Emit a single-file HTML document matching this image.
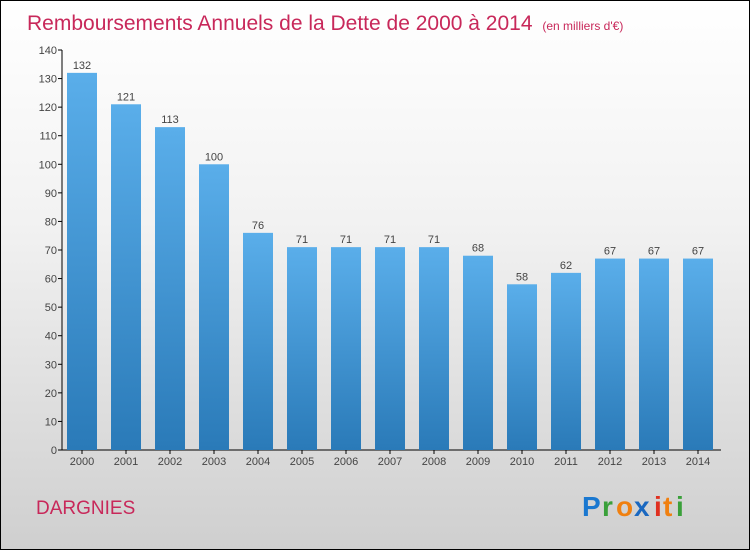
<!DOCTYPE html>
<html><head><meta charset="utf-8"><style>
html,body{margin:0;padding:0}
body{width:750px;height:550px;overflow:hidden;font-family:"Liberation Sans",sans-serif}
#frame{position:absolute;left:0;top:0;width:748px;height:548px;border:1px solid #000;background:linear-gradient(#ffffff 0%,#f2f2f2 40%,#cfcfcf 100%)}
</style></head><body>
<div id="frame">
<svg id="chart" width="750" height="550" style="position:absolute;left:-1px;top:-1px">
<defs><linearGradient id="bg" x1="0" y1="0" x2="0" y2="1"><stop offset="0" stop-color="#5aaeea"/><stop offset="1" stop-color="#2a7ab8"/></linearGradient></defs>
<text x="27" y="30" font-size="21" fill="#c8285a">Remboursements Annuels de la Dette de 2000 à 2014 <tspan font-size="12" dx="4">(en milliers d'€)</tspan></text>
<g id="axes"></g><g id="bars"></g>
<text x="36" y="514" font-size="19" fill="#c8285a">DARGNIES</text>
<g font-size="28" font-weight="bold">
<text x="582" y="516" fill="#1a78d0">P</text><text x="602" y="516" fill="#3aa03a">r</text><text x="616" y="516" fill="#f08010">o</text><text x="634" y="516" fill="#1a68c0">x</text><text x="654" y="516" fill="#e03020">i</text><text x="663" y="516" fill="#f08010">t</text><text x="676" y="516" fill="#3aa03a">i</text>
</g>
</svg>
</div>
<script>
const years=["2000","2001","2002","2003","2004","2005","2006","2007","2008","2009","2010","2011","2012","2013","2014"];
const values=[132,121,113,100,76,71,71,71,71,68,58,62,67,67,67];
const ticks=[0,10,20,30,40,50,60,70,80,90,100,110,120,130,140];
const NS="http://www.w3.org/2000/svg";
const y0=450,ppu=400/140,x0=62,pitch=44,bw=30;
const y=v=>y0-v*ppu, xc=i=>82+i*pitch;
function mk(t,a,p){const e=document.createElementNS(NS,t);for(const k in a)e.setAttribute(k,a[k]);p.appendChild(e);return e;}
const ax=document.getElementById('axes'),bs=document.getElementById('bars');
const yl=mk('line',{x1:x0,y1:y0,x2:x0,y2:y(140),stroke:'#000'},ax);


const xl=mk('line',{x1:x0,y1:y0,x2:721,y2:y0,stroke:'#000'},ax);


ticks.forEach(t=>{
 mk('line',{x1:x0-4,x2:x0,y1:y(t),y2:y(t),stroke:'#000'},ax);
 const tx=mk('text',{x:x0-5,y:y(t)+4,'font-size':11,fill:'#444','text-anchor':'end'},ax);tx.textContent=t;
 
 
});
years.forEach((yr,i)=>{
 const r=mk('rect',{x:xc(i)-bw/2,y:y(values[i]),width:bw,height:values[i]*ppu,fill:'url(#bg)'},bs);
 
 
 const v=mk('text',{x:xc(i),y:y(values[i])-4,'font-size':11,fill:'#444','text-anchor':'middle'},bs);v.textContent=values[i];
 
 
 mk('line',{x1:xc(i),x2:xc(i),y1:y0,y2:y0+4,stroke:'#000'},ax);
 const l=mk('text',{x:xc(i),y:y0+15,'font-size':11,fill:'#444','text-anchor':'middle'},ax);l.textContent=yr;
 
 
});
</script>
</body></html>
